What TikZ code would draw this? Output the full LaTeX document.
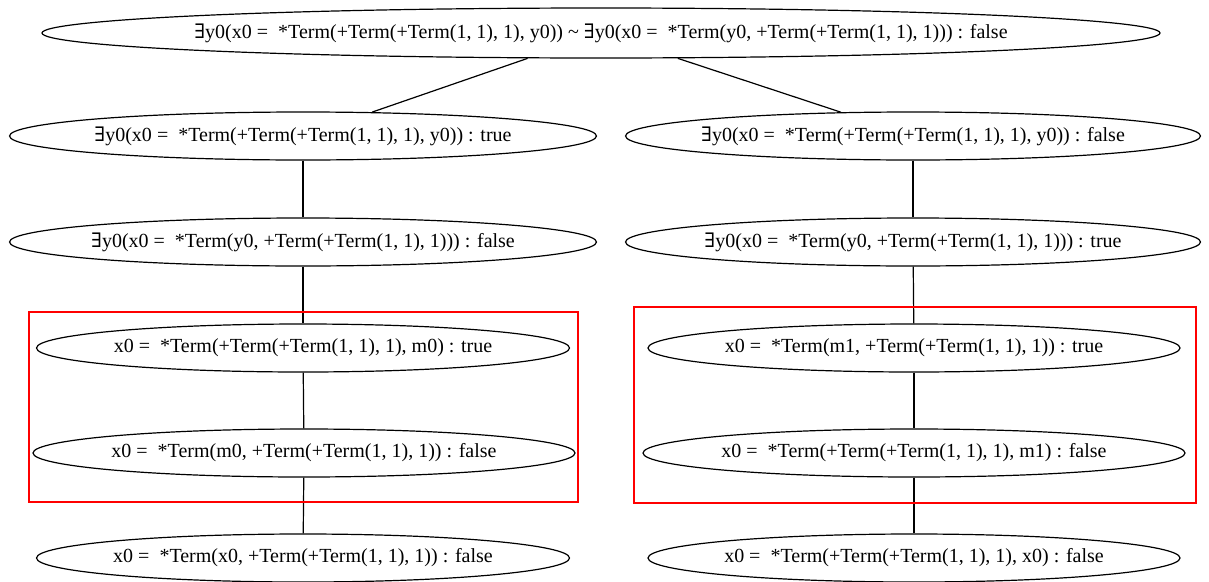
\documentclass[tikz,border=0pt]{standalone}
\usepackage{fontspec}
\setmainfont{Liberation Serif}
\newfontfamily\symf{DejaVu Serif}
\usetikzlibrary{shapes.geometric}
\newcommand{\ex}{{\symf\char"2203}}
\newcommand{\lbl}[1]{\makebox[0pt][c]{#1}}
\tikzset{
  ell/.style={draw, ellipse, inner sep=0pt, minimum height=48pt, line width=1.2pt, font=\fontsize{20}{22}\selectfont},
  edge/.style={line width=1.2pt},
  hbox/.style={draw=red, line width=2.6pt}
}
\begin{document}
\begin{tikzpicture}[x=1pt,y=-1pt]
\useasboundingbox (0,0) rectangle (1209,581);
\node[ell, minimum width=1118pt, minimum height=50pt] (top) at (601,33) {\lbl{\ex y0(x0 =\ \ *Term(+Term(+Term(1, 1), 1), y0)) \textasciitilde{} \ex y0(x0 =\ \ *Term(y0, +Term(+Term(1, 1), 1))) : false}};
\node[ell, minimum width=587pt] (l1) at (303,136) {\lbl{\ex y0(x0 =\ \ *Term(+Term(+Term(1, 1), 1), y0)) : true}};
\node[ell, minimum width=575pt] (r1) at (913,136) {\lbl{\ex y0(x0 =\ \ *Term(+Term(+Term(1, 1), 1), y0)) : false}};
\node[ell, minimum width=587pt] (l2) at (303,242) {\lbl{\ex y0(x0 =\ \ *Term(y0, +Term(+Term(1, 1), 1))) : false}};
\node[ell, minimum width=575pt] (r2) at (913,242) {\lbl{\ex y0(x0 =\ \ *Term(y0, +Term(+Term(1, 1), 1))) : true}};
\node[ell, minimum width=533pt] (l3) at (303,348) {\lbl{x0 =\ \ *Term(+Term(+Term(1, 1), 1), m0) : true}};
\node[ell, minimum width=532pt] (r3) at (914,348) {\lbl{x0 =\ \ *Term(m1, +Term(+Term(1, 1), 1)) : true}};
\node[ell, minimum width=542pt] (l4) at (304,453) {\lbl{x0 =\ \ *Term(m0, +Term(+Term(1, 1), 1)) : false}};
\node[ell, minimum width=542pt] (r4) at (914,453) {\lbl{x0 =\ \ *Term(+Term(+Term(1, 1), 1), m1) : false}};
\node[ell, minimum width=533pt] (l5) at (303,558) {\lbl{x0 =\ \ *Term(x0, +Term(+Term(1, 1), 1)) : false}};
\node[ell, minimum width=532pt] (r5) at (914,558) {\lbl{x0 =\ \ *Term(+Term(+Term(1, 1), 1), x0) : false}};
\draw[edge] (top) -- (l1);
\draw[edge] (top) -- (r1);
\draw[edge] (l1) -- (l2);
\draw[edge] (l2) -- (l3);
\draw[edge] (l3) -- (l4);
\draw[edge] (l4) -- (l5);
\draw[edge] (r1) -- (r2);
\draw[edge] (r2) -- (r3);
\draw[edge] (r3) -- (r4);
\draw[edge] (r4) -- (r5);
\draw[hbox] (29,312) rectangle (578,502);
\draw[hbox] (634,307) rectangle (1196,503);
\end{tikzpicture}
\end{document}
